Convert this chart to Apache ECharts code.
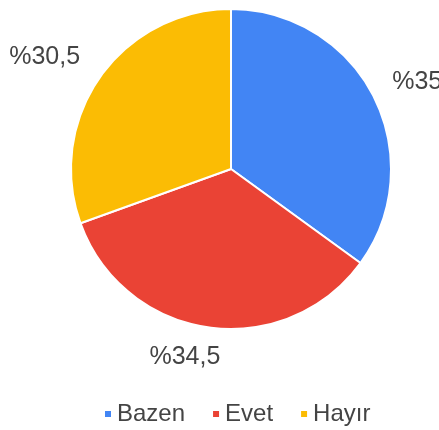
<!DOCTYPE html>
<html lang="tr">
<head>
    <meta charset="UTF-8">
    <title>Pie</title>
    <script src="https://cdn.jsdelivr.net/npm/echarts@6/dist/echarts.min.js"></script>
    <style>
        html, body { margin: 0; padding: 0; background: #fff; }
    </style>
</head>
<body>
    <div id="main" style="width: 439px;height:430px;"></div>

    <script type="text/javascript">
        var categories = ['Bazen', 'Evet', 'Hayır']
        var values = [35, 34.5, 30.5]
        var colors = ['#4285f4', '#ea4335', '#fbbc04']

        // small nudges so the labels sit where the original puts them
        var labelShift = [[-6, -4], [20, 8], [3, -7]]

        var data = []
        for (var i = 0; i < categories.length; i++) {
            data.push({ name: categories[i], value: values[i], itemStyle: { color: colors[i] } })
        }

        var myChart = echarts.init(document.getElementById('main'));

        var option = {
            animation: false,
            legend: {
                top: 397,
                left: 98,
                icon: 'rect',
                itemWidth: 8,
                itemHeight: 8,
                itemGap: 26,
                textStyle: { fontFamily: 'Liberation Sans, Arial', fontSize: 24, color: '#444' },
                data: categories
            },
            series: [{
                type: 'pie',
                center: [231, 169],
                radius: 160,
                startAngle: 90,
                clockwise: true,
                data: data,
                itemStyle: { borderColor: '#fff', borderWidth: 2 },
                label: {
                    show: true,
                    position: 'outside',
                    overflow: 'none',
                    formatter: function (p) { return '%' + String(p.value).replace('.', ','); },
                    fontFamily: 'Liberation Sans, Arial',
                    fontSize: 25,
                    color: '#444'
                },
                labelLine: { show: false, length: 22, length2: 0 },
                labelLayout: function (p) {
                    var s = labelShift[p.dataIndex]
                    return { dx: s[0], dy: s[1] }
                }
            }]
        };
        myChart.setOption(option);
    </script>
</body>
</html>
